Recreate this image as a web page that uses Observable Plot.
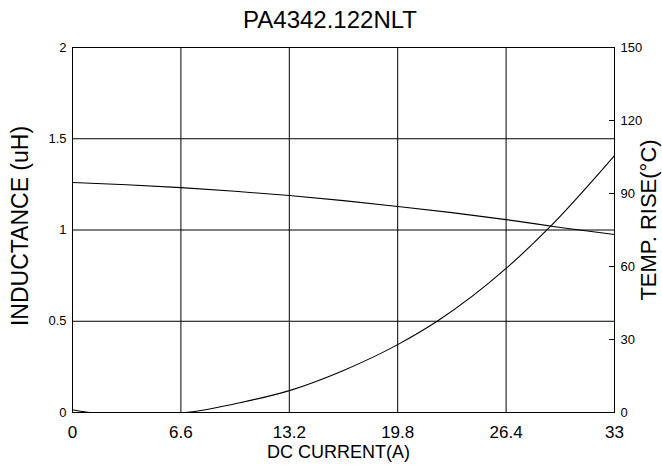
<!DOCTYPE html>
<html>
<head>
<meta charset="utf-8">
<script src="https://cdn.jsdelivr.net/npm/d3@7"></script>
<script src="https://cdn.jsdelivr.net/npm/@observablehq/plot@0.6"></script>
<style>
  body { margin: 0; background: #fff; }
  #wrap { position: relative; width: 662px; height: 470px; font-family: "Liberation Sans", Arial, sans-serif; }
  #title { position: absolute; left: 0; top: 6px; width: 660px; text-align: center; font-size: 24px; color: #000; }
</style>
</head>
<body>
<div id="wrap"><div id="title">PA4342.122NLT</div></div>
<script>
const title = "PA4342.122NLT";
const xTicks = [0, 6.6, 13.2, 19.8, 26.4, 33];
const leftTicks = [0, 0.5, 1, 1.5, 2];
const rightTicks = [0, 30, 60, 90, 120, 150];

const indCurrent = [0, 3.3, 6.6, 9.9, 13.2, 16.5, 19.8, 23.1, 26.4, 29.7, 33];
const inductance = [1.26, 1.248, 1.232, 1.212, 1.189, 1.161, 1.129, 1.095, 1.057, 1.014, 0.975];

const tempCurrent = [0, 0.5, 1.1, 6.6, 7.8, 9.9, 13.2, 16.5, 19.8, 22.2, 26.4, 29.1, 33];
const tempRise = [1.1, 0.5, 0, 0, 0.8, 3.6, 9.0, 17.3, 27.9, 37.5, 59.2, 76.5, 105.6];

const tempMax = 150, indMax = 2;
const toLeft = t => t * indMax / tempMax;

const indData = indCurrent.map((x, i) => ({x, y: inductance[i]}));
const tempData = tempCurrent.map((x, i) => ({x, y: toLeft(tempRise[i])}));

const font = "Liberation Sans, Arial, sans-serif";

const chart = Plot.plot({
  width: 662,
  height: 470,
  marginLeft: 72,
  marginRight: 48,
  marginTop: 47,
  marginBottom: 58,
  style: {fontFamily: font, background: "transparent", color: "#000", overflow: "visible"},
  x: {domain: [0, 33]},
  y: {domain: [0, 2]},
  marks: [
    Plot.ruleX(xTicks.slice(1, -1), {stroke: "#000", strokeWidth: 1}),
    Plot.ruleY(leftTicks.slice(1, -1), {stroke: "#000", strokeWidth: 1}),
    Plot.frame({stroke: "#000", strokeWidth: 1}),
    Plot.line(indData, {x: "x", y: "y", stroke: "#000", strokeWidth: 1.1, curve: "monotone-x"}),
    Plot.line(tempData, {x: "x", y: "y", stroke: "#000", strokeWidth: 1.1, curve: "monotone-x"}),
    Plot.axisX({ticks: xTicks, tickSize: 0, tickPadding: 13, fontSize: 17, label: null, tickFormat: d => String(d)}),
    Plot.axisY({ticks: leftTicks, tickSize: 0, tickPadding: 6, fontSize: 13, label: null, tickFormat: d => String(d)}),
    Plot.axisY({anchor: "right", ticks: rightTicks.map(toLeft), tickSize: -6, tickPadding: 12, fontSize: 13, label: null,
      tickFormat: d => String(Math.round(d * tempMax / indMax))}),
    Plot.text(["DC CURRENT(A)"], {frameAnchor: "bottom", lineAnchor: "middle", textAnchor: "middle", dy: 40, dx: -5, fontSize: 18, fill: "#000"}),
    Plot.text(["INDUCTANCE (uH)"], {frameAnchor: "left", lineAnchor: "middle", textAnchor: "middle", dx: -52, dy: -4, rotate: -90, fontSize: 23, fill: "#000"}),
    Plot.text(["TEMP. RISE(°C)"], {frameAnchor: "right", lineAnchor: "middle", textAnchor: "middle", dx: 34, dy: -10, rotate: -90, fontSize: 22, fill: "#000"})
  ]
});
document.getElementById("wrap").appendChild(chart);
</script>
</body>
</html>
